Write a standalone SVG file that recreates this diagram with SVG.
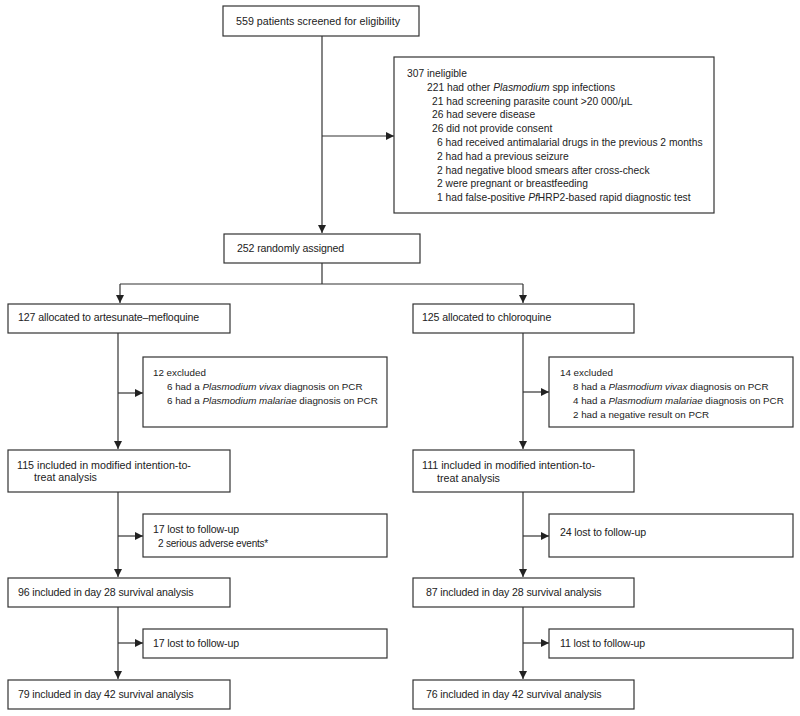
<svg xmlns="http://www.w3.org/2000/svg" width="800" height="716" viewBox="0 0 800 716">
<style>
.box{fill:#fff;stroke:#333;stroke-width:1.2}
.ln{fill:none;stroke:#333;stroke-width:1.2}
text{font-family:"Liberation Sans",Arial,sans-serif;font-size:10.5px;fill:#222}
.t{font-size:10.7px}
.i{font-size:10.25px}
.x{font-size:9.8px}
.c{font-size:10.6px;letter-spacing:-0.12px}
.f{font-size:10px;letter-spacing:-0.2px}
</style>
<defs>
<marker id="ah" markerWidth="8" markerHeight="8" viewBox="0 0 8 8" refX="8" refY="4" orient="auto" markerUnits="userSpaceOnUse">
<path d="M0,0 L8,4 L0,8 Z" fill="#222"/>
</marker>
</defs>
<rect width="800" height="716" fill="#fff"/>
<g id="connectors">
<path class="ln" d="M322,36 V233" marker-end="url(#ah)"/>
<path class="ln" d="M322,136 H394" marker-end="url(#ah)"/>
<path class="ln" d="M322,263 V284 M120,284 H523"/>
<path class="ln" d="M120,284 V303" marker-end="url(#ah)"/>
<path class="ln" d="M523,284 V303" marker-end="url(#ah)"/>
<path class="ln" d="M118,333 V449" marker-end="url(#ah)"/>
<path class="ln" d="M118,393 H143" marker-end="url(#ah)"/>
<path class="ln" d="M523,333 V449" marker-end="url(#ah)"/>
<path class="ln" d="M523,392 H549" marker-end="url(#ah)"/>
<path class="ln" d="M118,492 V577" marker-end="url(#ah)"/>
<path class="ln" d="M118,536 H143" marker-end="url(#ah)"/>
<path class="ln" d="M523,492 V577" marker-end="url(#ah)"/>
<path class="ln" d="M523,536 H549" marker-end="url(#ah)"/>
<path class="ln" d="M118,607 V679" marker-end="url(#ah)"/>
<path class="ln" d="M118,643 H143" marker-end="url(#ah)"/>
<path class="ln" d="M523,607 V679" marker-end="url(#ah)"/>
<path class="ln" d="M523,643 H549" marker-end="url(#ah)"/>
</g>
<g id="screened">
<rect class="box" x="223" y="6" width="196" height="30"/>
<text class="t" x="236" y="25">559 patients screened for eligibility</text>
</g>
<g id="ineligible">
<rect class="box" x="394" y="57" width="320" height="156"/>
<text class="i" x="407" y="77">307 ineligible</text>
<text class="i" x="427" y="90.8">221 had other <tspan font-style="italic">Plasmodium</tspan> spp infections</text>
<text class="i" x="432" y="104.6">21 had screening parasite count &gt;20 000/μL</text>
<text class="i" x="432" y="118.4">26 had severe disease</text>
<text class="i" x="432" y="132.2">26 did not provide consent</text>
<text class="i" x="437" y="146">6 had received antimalarial drugs in the previous 2 months</text>
<text class="i" x="437" y="159.8">2 had had a previous seizure</text>
<text class="i" x="437" y="173.6">2 had negative blood smears after cross-check</text>
<text class="i" x="437" y="187.4">2 were pregnant or breastfeeding</text>
<text class="i" x="437" y="201.2">1 had false-positive <tspan font-style="italic">Pf</tspan>HRP2-based rapid diagnostic test</text>
</g>
<g id="randomised">
<rect class="box" x="224" y="234" width="196" height="29"/>
<text class="c" x="237" y="252">252 randomly assigned</text>
</g>
<g id="am-allocated">
<rect class="box" x="8" y="304" width="222" height="29"/>
<text class="c" x="18" y="321">127 allocated to artesunate–mefloquine</text>
</g>
<g id="cq-allocated">
<rect class="box" x="413" y="304" width="221" height="29"/>
<text class="c" x="422" y="321">125 allocated to chloroquine</text>
</g>
<g id="am-excluded">
<rect class="box" x="143" y="357" width="244" height="70"/>
<text class="x" x="153" y="376">12 excluded</text>
<text class="x" x="167" y="390">6 had a <tspan font-style="italic">Plasmodium vivax</tspan> diagnosis on PCR</text>
<text class="x" x="167" y="404">6 had a <tspan font-style="italic">Plasmodium malariae</tspan> diagnosis on PCR</text>
</g>
<g id="cq-excluded">
<rect class="box" x="549" y="357" width="244" height="70"/>
<text class="x" x="560" y="376">14 excluded</text>
<text class="x" x="573" y="390">8 had a <tspan font-style="italic">Plasmodium vivax</tspan> diagnosis on PCR</text>
<text class="x" x="573" y="404">4 had a <tspan font-style="italic">Plasmodium malariae</tspan> diagnosis on PCR</text>
<text class="x" x="573" y="418">2 had a negative result on PCR</text>
</g>
<g id="am-mitt">
<rect class="box" x="8" y="450" width="222" height="42"/>
<text class="t" x="17" y="469">115 included in modified intention-to-</text>
<text class="t" x="34" y="481">treat analysis</text>
</g>
<g id="cq-mitt">
<rect class="box" x="413" y="450" width="221" height="42"/>
<text class="t" x="422" y="469">111 included in modified intention-to-</text>
<text class="t" x="437" y="482">treat analysis</text>
</g>
<g id="am-lost1">
<rect class="box" x="143" y="514" width="244" height="43"/>
<text class="c" x="153" y="533">17 lost to follow-up</text>
<text class="f" x="158" y="547">2 serious adverse events*</text>
</g>
<g id="cq-lost1">
<rect class="box" x="549" y="514" width="244" height="43"/>
<text class="c" x="560" y="536">24 lost to follow-up</text>
</g>
<g id="am-d28">
<rect class="box" x="8" y="578" width="222" height="29"/>
<text class="c" x="18" y="596">96 included in day 28 survival analysis</text>
</g>
<g id="cq-d28">
<rect class="box" x="413" y="578" width="221" height="29"/>
<text class="c" x="426" y="596">87 included in day 28 survival analysis</text>
</g>
<g id="am-lost2">
<rect class="box" x="143" y="629" width="244" height="29"/>
<text class="c" x="153" y="647">17 lost to follow-up</text>
</g>
<g id="cq-lost2">
<rect class="box" x="549" y="629" width="244" height="29"/>
<text class="c" x="560" y="647">11 lost to follow-up</text>
</g>
<g id="am-d42">
<rect class="box" x="8" y="680" width="222" height="29"/>
<text class="c" x="18" y="698">79 included in day 42 survival analysis</text>
</g>
<g id="cq-d42">
<rect class="box" x="413" y="680" width="221" height="29"/>
<text class="c" x="426" y="698">76 included in day 42 survival analysis</text>
</g>
</svg>
